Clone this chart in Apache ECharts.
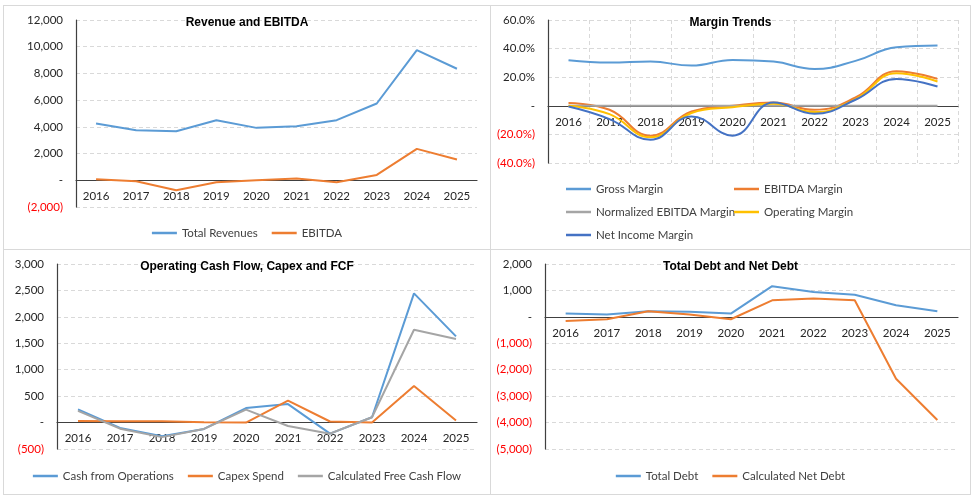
<!DOCTYPE html>
<html>
<head>
<meta charset="utf-8">
<script src="https://cdn.jsdelivr.net/npm/echarts@6/dist/echarts.min.js"></script>
<style>
  body { margin: 0; background: #fff; }
  #wrap { position: relative; width: 975px; height: 500px; }
  .panel { position: absolute; box-sizing: border-box; border: 1px solid #d9d9d9; background: #fff; }
</style>
</head>
<body>
<div id="wrap">
  <div class="panel" id="revenue-chart" style="left:3px;top:5px;width:488px;height:245px;"></div>
  <div class="panel" id="margin-chart" style="left:490px;top:5px;width:481px;height:245px;"></div>
  <div class="panel" id="cash-chart" style="left:3px;top:249px;width:488px;height:246px;"></div>
  <div class="panel" id="debt-chart" style="left:490px;top:249px;width:481px;height:246px;"></div>
</div>
<script>
const years = ['2016', '2017', '2018', '2019', '2020', '2021', '2022', '2023', '2024', '2025'];

// Revenue and EBITDA
const totalRevenues = [4250, 3750, 3675, 4500, 3925, 4050, 4500, 5750, 9750, 8350];
const ebitda = [75, -75, -750, -150, 0, 125, -150, 400, 2350, 1550];

// Margin Trends (%)
const grossMargin = [31.9, 30.2, 30.9, 28.1, 32.1, 30.9, 25.8, 31.4, 40.9, 42.1];
const ebitdaMargin = [1.9, -2.8, -20.9, -4.0, 0.0, 2.3, -2.8, 5.8, 24.2, 18.8];
const normEbitdaMargin = [0, 0, 0, 0, 0, 0, 0, 0, 0, 0];
const operatingMargin = [0.0, -5.8, -22.0, -5.0, -1.0, 1.4, -4.4, 4.7, 22.8, 17.0];
const netIncomeMargin = [-0.5, -9.3, -23.7, -7.4, -20.9, 2.3, -5.6, 4.2, 18.8, 13.5];

// Operating Cash Flow, Capex and FCF
const cashFromOps = [250, -100, -260, -120, 275, 350, -210, 100, 2445, 1630];
const capexSpend = [30, 25, 25, 5, 0, 415, 20, 0, 690, 40];
const freeCashFlow = [220, -115, -275, -120, 245, -65, -210, 100, 1755, 1580];

// Total Debt and Net Debt
const totalDebt = [125, 90, 210, 190, 125, 1160, 940, 840, 440, 210];
const netDebt = [-160, -90, 210, 90, -90, 625, 690, 625, -2340, -3900];

const BLUE = '#5B9BD5', ORANGE = '#ED7D31', GRAY = '#A5A5A5', YELLOW = '#FFC000', DARK_BLUE = '#4472C4';
const FONT = 'Lato';

function fmtNum(v) {
  if (v === 0) return '-';
  const s = Math.abs(v).toLocaleString('en-US');
  return v < 0 ? '(' + s + ')' : s;
}

function fmtPct(v) {
  if (v === 0) return '-';
  const s = Math.abs(v).toFixed(1) + '%';
  return v < 0 ? '(' + s + ')' : s;
}

function line(name, data, color, smooth) {
  return {
    name, type: 'line', data, smooth: smooth ? 0.45 : false,
    symbol: 'none', lineStyle: { color, width: 2 }, itemStyle: { color }
  };
}

function legendBase(extra) {
  return Object.assign({
    icon: 'rect', itemWidth: 25, itemHeight: 2.5, itemGap: 14,
    textStyle: { fontFamily: FONT, fontSize: 11.5, color: '#404040' }
  }, extra);
}

function buildOption({ title, grid, min, max, interval, fmt, series, legend, vGrid }) {
  return {
    animation: false,
    textStyle: { fontFamily: FONT },
    title: {
      text: title, left: 'center', top: 6,
      textStyle: { fontFamily: 'Liberation Sans', fontSize: 12, fontWeight: 'bold', color: '#000' }
    },
    grid,
    legend,
    xAxis: {
      type: 'category', data: years, boundaryGap: true,
      axisLine: { onZero: true, lineStyle: { color: '#404040', width: 1.2 } },
      axisTick: { show: false },
      axisLabel: { margin: 10, fontSize: 11.5, color: '#262626', fontFamily: FONT },
      splitLine: { show: !!vGrid, interval: 0, lineStyle: { color: '#d9d9d9', type: [4, 3] } }
    },
    yAxis: {
      type: 'value', min, max, interval,
      axisLine: { show: true, lineStyle: { color: '#404040', width: 1.2 } },
      axisTick: { show: false },
      axisLabel: {
        margin: 13, fontSize: 11.5, fontFamily: FONT, formatter: fmt,
        color: v => (v < 0 ? '#FF0000' : '#262626')
      },
      splitLine: { lineStyle: { color: '#d9d9d9', type: [4, 3] } }
    },
    series
  };
}

const charts = [];

charts.push(['revenue-chart', buildOption({
  title: 'Revenue and EBITDA',
  grid: { left: 72, right: 13, top: 14, bottom: 42 },
  min: -2000, max: 12000, interval: 2000, fmt: fmtNum,
  legend: legendBase({ left: 'center', top: 216, data: ['Total Revenues', 'EBITDA'] }),
  series: [line('Total Revenues', totalRevenues, BLUE), line('EBITDA', ebitda, ORANGE)]
})]);

charts.push(['margin-chart', buildOption({
  title: 'Margin Trends',
  grid: { left: 57, right: 12, top: 14, bottom: 86 },
  min: -40, max: 60, interval: 20, fmt: fmtPct, vGrid: true,
  legend: [
    legendBase({ orient: 'vertical', left: 70, top: 172, itemGap: 11,
      data: ['Gross Margin', 'Normalized EBITDA Margin', 'Net Income Margin'] }),
    legendBase({ orient: 'vertical', left: 238, top: 172, itemGap: 11,
      data: ['EBITDA Margin', 'Operating Margin'] })
  ],
  series: [
    line('Gross Margin', grossMargin, BLUE, true),
    line('EBITDA Margin', ebitdaMargin, ORANGE, true),
    line('Normalized EBITDA Margin', normEbitdaMargin, GRAY, true),
    line('Operating Margin', operatingMargin, YELLOW, true),
    line('Net Income Margin', netIncomeMargin, DARK_BLUE, true)
  ]
})]);

charts.push(['cash-chart', buildOption({
  title: 'Operating Cash Flow, Capex and FCF',
  grid: { left: 53, right: 13, top: 14, bottom: 45 },
  min: -500, max: 3000, interval: 500, fmt: fmtNum,
  legend: legendBase({ left: 'center', top: 215, data: ['Cash from Operations', 'Capex Spend', 'Calculated Free Cash Flow'] }),
  series: [
    line('Cash from Operations', cashFromOps, BLUE),
    line('Capex Spend', capexSpend, ORANGE),
    line('Calculated Free Cash Flow', freeCashFlow, GRAY)
  ]
})]);

charts.push(['debt-chart', buildOption({
  title: 'Total Debt and Net Debt',
  grid: { left: 54, right: 12, top: 14, bottom: 45 },
  min: -5000, max: 2000, interval: 1000, fmt: fmtNum,
  legend: legendBase({ left: 'center', top: 215, data: ['Total Debt', 'Calculated Net Debt'] }),
  series: [line('Total Debt', totalDebt, BLUE), line('Calculated Net Debt', netDebt, ORANGE)]
})]);

charts.forEach(([id, option]) => {
  const chart = echarts.init(document.getElementById(id));
  chart.setOption(option);
  // Excel puts the year labels just under the zero line, so pull them up from the grid bottom
  const zeroY = chart.convertToPixel({ yAxisIndex: 0 }, 0);
  const minY = chart.convertToPixel({ yAxisIndex: 0 }, option.yAxis.min);
  chart.setOption({ xAxis: { axisLabel: { margin: 10 - (minY - zeroY) } } });
  window.addEventListener('resize', () => chart.resize());
});
</script>
</body>
</html>
